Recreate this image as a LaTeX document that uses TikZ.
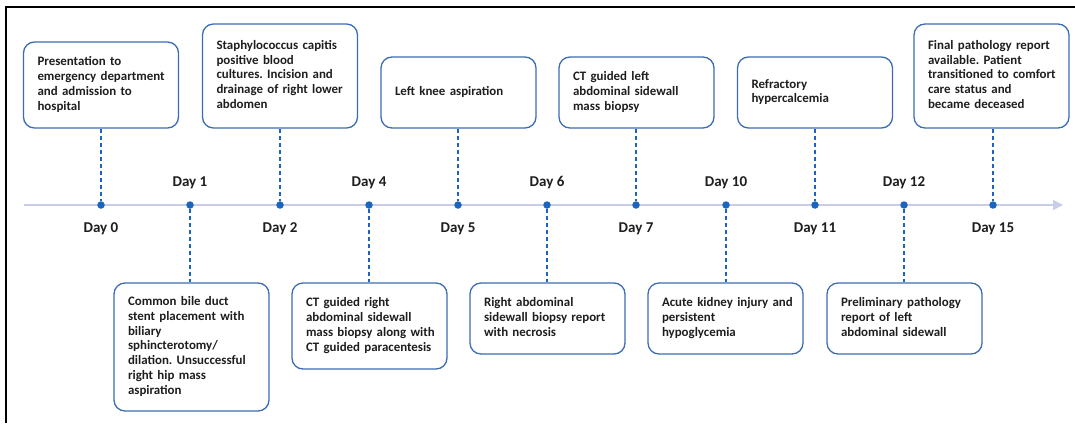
\documentclass[tikz,border=0pt]{standalone}
\usepackage{fontspec}
\setmainfont{Carlito}
\usetikzlibrary{arrows.meta}
\definecolor{boxblue}{HTML}{3C6DB4}
\definecolor{dotblue}{HTML}{1B65BF}
\definecolor{axiscol}{HTML}{C9CDEA}
\definecolor{txt}{HTML}{1E1E1E}
\frenchspacing
\newcommand{\evlines}[1]{\begin{tabular}{@{}l@{}}#1\end{tabular}}
\tikzset{
  evbox/.style={draw=boxblue, line width=1.3pt, rounded corners=11pt, fill=white,
    text width=127pt, inner xsep=14pt, inner ysep=4pt, align=left, text=txt,
    font=\fontsize{12.9}{14.8}\selectfont\bfseries},
  dotnode/.style={circle, fill=dotblue, inner sep=0pt, minimum size=7.5pt},
  daylab/.style={text=txt, font=\fontsize{15}{17}\selectfont\bfseries, inner sep=0pt},
  conn/.style={draw=dotblue, line width=1.4pt, dash pattern=on 4pt off 3pt},
}
\begin{document}
\begin{tikzpicture}[x=1pt,y=-1pt]
\useasboundingbox (0,0) rectangle (1075,423);
\fill[white] (0,0) rectangle (1075,423);
\draw[line width=1.5pt] (6,423) -- (6,7) -- (1075,7);
% axis
\coordinate (astart) at (24,205);
\coordinate (aend) at (1063,205);
\draw[axiscol, line width=1.6pt, -{Triangle[length=10pt,width=10pt]}] (astart) -- (aend);
% dots
\foreach \n/\x in {0/101,1/190,2/280,4/369,5/458,6/547,7/636,10/726,11/815,12/904,15/993}
  \node[dotnode] (d\n) at (\x,205) {};
% day labels
\foreach \n in {1,4,6,10,12}
  \node[daylab] (l\n) at ([yshift=22pt]d\n) {Day \n};
\foreach \n in {0,2,5,7,11,15}
  \node[daylab] (l\n) at ([yshift=-24pt]d\n) {Day \n};
% top boxes
\node[evbox, minimum height=86pt] (b0) at (101,85) {\evlines{Presentation to\\emergency department\\and admission to\\hospital}};
\node[evbox, minimum height=104pt] (b2) at (280,76) {\evlines{Staphylococcus capitis\\positive blood\\cultures. Incision and\\drainage of right lower\\abdomen}};
\node[evbox, minimum height=71pt] (b5) at (458.5,92.5) {\evlines{Left knee aspiration}};
\node[evbox, minimum height=71pt] (b7) at (636.5,92.5) {\evlines{CT guided left\\abdominal sidewall\\mass biopsy}};
\node[evbox, minimum height=71pt] (b11) at (815,92.5) {\evlines{Refractory\\hypercalcemia}};
\node[evbox, minimum height=104pt] (b15) at (991.5,76) {\evlines{Final pathology report\\available. Patient\\transitioned to comfort\\care status and\\became deceased}};
% bottom boxes
\node[evbox, minimum height=128pt] (b1) at (191.5,347) {\evlines{Common bile duct\\stent placement with\\biliary\\sphincterotomy/\\dilation. Unsuccessful\\right hip mass\\aspiration}};
\node[evbox, minimum height=86pt] (b4) at (369.5,326) {\evlines{CT guided right\\abdominal sidewall\\mass biopsy along with\\CT guided paracentesis}};
\node[evbox, minimum height=71pt] (b6) at (547.5,318.5) {\evlines{Right abdominal\\sidewall biopsy report\\with necrosis}};
\node[evbox, minimum height=71pt] (b10) at (725.5,318.5) {\evlines{Acute kidney injury and\\persistent\\hypoglycemia}};
\node[evbox, minimum height=71pt] (b12) at (904.5,318.5) {\evlines{Preliminary pathology\\report of left\\abdominal sidewall}};
% connectors
\foreach \n in {0,2,5,7,11,15}
  \draw[conn] (b\n.south -| d\n) -- (d\n);
\foreach \n in {1,4,6,10,12}
  \draw[conn] (d\n) -- (b\n.north -| d\n);
\end{tikzpicture}
\end{document}
